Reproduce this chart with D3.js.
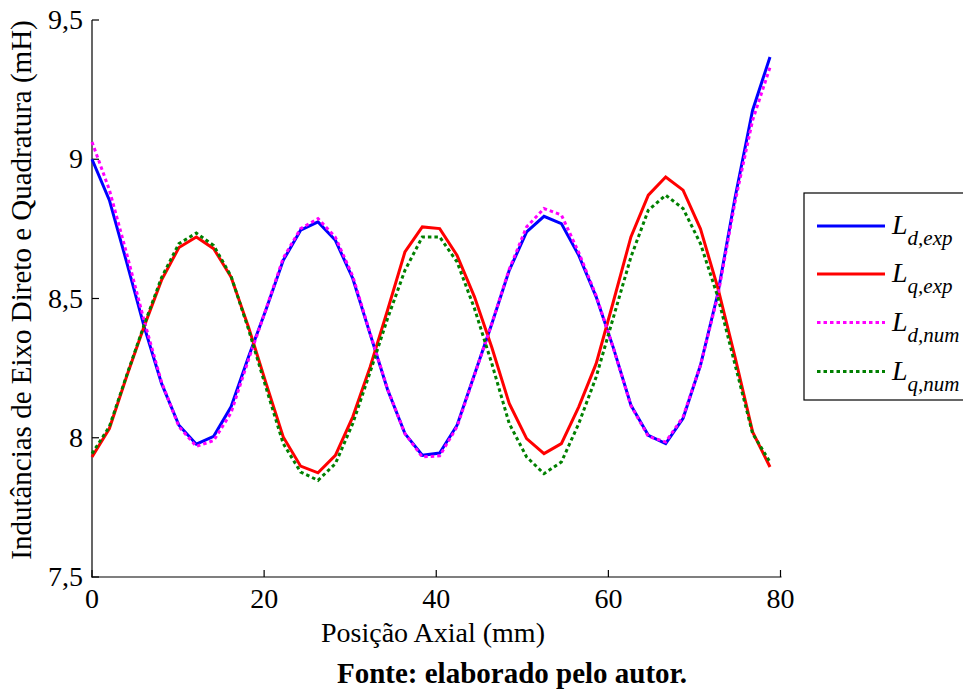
<!DOCTYPE html>
<html>
<head>
<meta charset="utf-8">
<script src="https://cdn.jsdelivr.net/npm/d3@7/dist/d3.min.js"></script>
<style>
  html, body { margin: 0; padding: 0; background: #fff; }
  svg { display: block; font-family: "Liberation Serif", "Times New Roman", serif; }
</style>
</head>
<body>
<svg id="chart" width="963" height="689"></svg>
<script>
// Axial positions (mm)
const posicao = [0, 2.02, 4.04, 6.06, 8.08, 10.1, 12.12, 14.14, 16.16, 18.18,
  20.2, 22.22, 24.24, 26.26, 28.28, 30.3, 32.32, 34.34, 36.36, 38.38,
  40.4, 42.42, 44.44, 46.46, 48.48, 50.5, 52.52, 54.54, 56.56, 58.58,
  60.6, 62.62, 64.64, 66.66, 68.68, 70.7, 72.72, 74.74, 76.76, 78.78];

// Direct-axis inductance, measured (mH)
const ldExp = [9.000, 8.853, 8.629, 8.399, 8.195, 8.045, 7.977, 8.005, 8.111, 8.290,
  8.459, 8.637, 8.745, 8.775, 8.709, 8.572, 8.372, 8.173, 8.015, 7.937,
  7.945, 8.045, 8.227, 8.409, 8.601, 8.739, 8.795, 8.769, 8.655, 8.506,
  8.321, 8.117, 8.009, 7.979, 8.070, 8.260, 8.518, 8.865, 9.176, 9.367];

// Quadrature-axis inductance, measured (mH)
const lqExp = [7.931, 8.033, 8.222, 8.400, 8.566, 8.683, 8.721, 8.679, 8.577, 8.398,
  8.198, 8.003, 7.898, 7.874, 7.937, 8.075, 8.254, 8.458, 8.667, 8.757,
  8.751, 8.655, 8.506, 8.324, 8.123, 7.997, 7.943, 7.979, 8.111, 8.266,
  8.491, 8.721, 8.871, 8.936, 8.889, 8.750, 8.538, 8.287, 8.021, 7.895];

// Direct-axis inductance, numerical (mH)
const ldNum = [9.062, 8.890, 8.660, 8.420, 8.200, 8.040, 7.969, 7.990, 8.090, 8.280,
  8.460, 8.645, 8.751, 8.787, 8.720, 8.580, 8.375, 8.175, 8.015, 7.931,
  7.935, 8.040, 8.225, 8.410, 8.605, 8.757, 8.823, 8.800, 8.665, 8.510,
  8.320, 8.115, 8.005, 7.985, 8.075, 8.260, 8.510, 8.850, 9.140, 9.330];

// Quadrature-axis inductance, numerical (mH)
const lqNum = [7.943, 8.040, 8.225, 8.405, 8.575, 8.697, 8.735, 8.690, 8.580, 8.390,
  8.182, 7.979, 7.877, 7.847, 7.907, 8.051, 8.236, 8.428, 8.601, 8.721,
  8.721, 8.631, 8.464, 8.266, 8.051, 7.931, 7.871, 7.913, 8.051, 8.218,
  8.434, 8.649, 8.817, 8.871, 8.823, 8.697, 8.506, 8.260, 8.015, 7.913];

const xTicks = [0, 20, 40, 60, 80];
const yTicks = [7.5, 8, 8.5, 9, 9.5];
const yTickLabels = ["7,5", "8", "8,5", "9", "9,5"];

const seriesNames = ["d,exp", "q,exp", "d,num", "q,num"];
const seriesData = [ldExp, lqExp, ldNum, lqNum];
const seriesColors = ["#0000ff", "#ff0000", "#ff00ff", "#008000"];
const seriesDash = [null, null, "3.5,3", "3.5,3"];

const svg = d3.select("#chart");

const x = d3.scaleLinear().domain([0, 80]).range([92, 780.5]);
const y = d3.scaleLinear().domain([7.5, 9.5]).range([577, 20]);

const FS = 28;
const TITLE_FS = 29;

// Axes: left and bottom lines with inward ticks
const axisG = svg.append("g").attr("stroke", "#000").attr("stroke-width", 1.2);
axisG.append("line").attr("x1", 92).attr("x2", 92).attr("y1", 20).attr("y2", 577.5);
axisG.append("line").attr("x1", 91.5).attr("x2", 781.5).attr("y1", 577).attr("y2", 577);

yTicks.forEach(v => {
  axisG.append("line").attr("x1", 92).attr("x2", 99)
    .attr("y1", y(v)).attr("y2", y(v));
});
xTicks.forEach(v => {
  axisG.append("line").attr("x1", x(v)).attr("x2", x(v))
    .attr("y1", 577).attr("y2", 570);
});

// Tick labels
svg.append("g").selectAll("text").data(yTicks).join("text")
  .attr("x", 83).attr("y", d => y(d) + 9)
  .attr("text-anchor", "end").attr("font-size", FS).attr("fill", "#000")
  .text((d, i) => yTickLabels[i]);

svg.append("g").selectAll("text").data(xTicks).join("text")
  .attr("x", d => x(d)).attr("y", 608)
  .attr("text-anchor", "middle").attr("font-size", FS).attr("fill", "#000")
  .text(d => d);

// Axis titles
svg.append("text")
  .attr("transform", "translate(31,290) rotate(-90)")
  .attr("text-anchor", "middle").attr("font-size", TITLE_FS).attr("fill", "#000")
  .text("Indutâncias de Eixo Direto e Quadratura (mH)");

svg.append("text")
  .attr("x", 433).attr("y", 642)
  .attr("text-anchor", "middle").attr("font-size", FS).attr("fill", "#000")
  .text("Posição Axial (mm)");

svg.append("text")
  .attr("x", 512).attr("y", 683)
  .attr("text-anchor", "middle").attr("font-size", TITLE_FS).attr("font-weight", "bold")
  .attr("fill", "#000")
  .text("Fonte: elaborado pelo autor.");

// Series lines
const line = d3.line()
  .x((d, i) => x(posicao[i]))
  .y(d => y(d));

seriesData.forEach((vals, k) => {
  svg.append("path")
    .datum(vals)
    .attr("fill", "none")
    .attr("stroke", seriesColors[k])
    .attr("stroke-width", 3)
    .attr("stroke-linejoin", "miter")
    .attr("stroke-dasharray", seriesDash[k])
    .attr("d", line);
});

// Legend
const lg = svg.append("g");
lg.append("rect")
  .attr("x", 804).attr("y", 193).attr("width", 170).attr("height", 207)
  .attr("fill", "#fff").attr("stroke", "#000").attr("stroke-width", 1.2);

const legendY = [226, 274, 322.5, 371.5];
seriesNames.forEach((name, k) => {
  const ly = legendY[k];
  lg.append("line")
    .attr("x1", 817).attr("x2", 885).attr("y1", ly).attr("y2", ly)
    .attr("stroke", seriesColors[k]).attr("stroke-width", 3)
    .attr("stroke-dasharray", seriesDash[k]);
  const t = lg.append("text")
    .attr("x", 892).attr("y", ly + 8)
    .attr("font-style", "italic").attr("fill", "#000");
  t.append("tspan").attr("font-size", 28).text("L");
  t.append("tspan").attr("font-size", 21).attr("dy", 11).attr("dx", 0).text(name);
});
</script>
</body>
</html>
